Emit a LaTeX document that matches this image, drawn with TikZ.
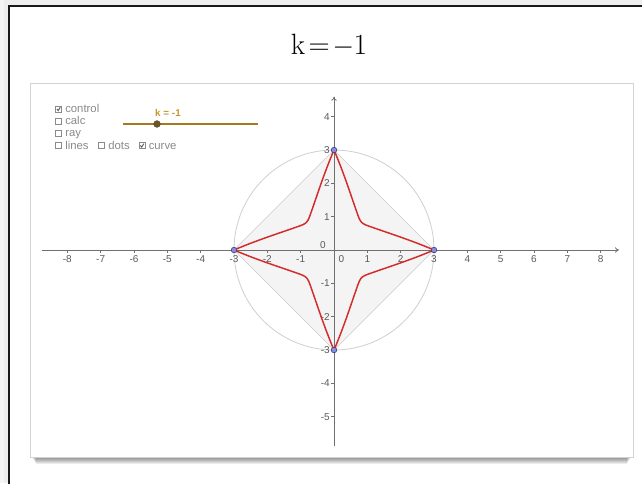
\documentclass[tikz,border=0pt]{standalone}
\usepackage{fontspec}
\newfontfamily\uifont{Liberation Sans}
\usetikzlibrary{arrows.meta}
\definecolor{axisgray}{HTML}{707070}
\definecolor{labgray}{HTML}{5A5A5A}
\definecolor{uigray}{HTML}{8A8A8A}
\definecolor{curvered}{HTML}{D42A2A}
\definecolor{sliderc}{HTML}{A8781E}
\definecolor{sliderlab}{HTML}{C8982C}
\definecolor{ptfill}{HTML}{8C8CDC}
\definecolor{ptdraw}{HTML}{3C3C78}
\tikzset{
  ticklab/.style={font=\uifont\fontsize{7.5}{8}\selectfont, text=labgray, inner sep=0pt},
  uilab/.style={font=\uifont\fontsize{8.5}{9}\selectfont, text=uigray, inner sep=0pt, anchor=base west, text height=6pt, text depth=1.5pt},
  cbox/.style={draw=uigray, line width=0.4pt, fill=white, minimum size=4.2pt, inner sep=0pt},
  ptstyle/.style={fill=ptfill, draw=ptdraw, line width=0.45pt},
  redcurve/.style={curvered, line width=1.1pt, line join=round},
  axisline/.style={axisgray, line width=0.6pt},
}
\begin{document}
\begin{tikzpicture}[x=0.75pt,y=-0.75pt]
\useasboundingbox (0,0) rectangle (642,483);
\clip (0,0) rectangle (642,483);
% page background and outer frame
\fill[gray!13] (0,0) rectangle (642,483);
\fill[gray!8] (0,0) rectangle (4,483);
\fill[white] (9,6) rectangle (660,500);
\draw[black!90, line width=1.5pt] (9,500) -- (9,6) -- (660,6);
% title
\node[font=\fontsize{22}{26}\selectfont, inner sep=0pt] (title) at (329,45) {k\kern2.6pt=\kern2.2pt$-$\kern-0.3pt1};
% panel shadow
\foreach \d in {1,...,8}
  \fill[black, opacity=0.075] (31+0.6*\d,455) rectangle (632-0.6*\d,455.5+\d);
% panel
\draw[gray!35, fill=white, line width=0.5pt] (30,83) rectangle (633,457);
% controls
\node[cbox] (cb1) at (58.5,109) {};
\node[uilab] (l1) at (65,112.5) {control};
\node[cbox] (cb2) at (58.5,121) {};
\node[uilab] (l2) at (65,124.5) {calc};
\node[cbox] (cb3) at (58.5,133) {};
\node[uilab] (l3) at (65,136.5) {ray};
\node[cbox] (cb4) at (58.5,145.5) {};
\node[uilab] (l4) at (65,149) {lines};
\node[cbox] (cb5) at (101.5,145.5) {};
\node[uilab] (l5) at (108,149) {dots};
\node[cbox] (cb6) at (142,145.5) {};
\node[uilab] (l6) at (148.5,149) {curve};
\foreach \c in {cb1,cb6}
  \draw[black!65, line width=0.7pt] ([shift={(-1.6,0)}]\c.center) -- ([shift={(-0.3,1.6)}]\c.center) -- ([shift={(1.8,-1.8)}]\c.center);
% slider
\coordinate (s1) at (123,124);
\coordinate (s2) at (258,124);
\draw[sliderc, line width=1.1pt] (s1) -- (s2);
\node[circle, fill=sliderc!70!black, draw=black!70, line width=0.4pt, minimum size=5pt, inner sep=0pt] (knob) at (157,124) {};
\node[font=\uifont\bfseries\fontsize{7.4}{8}\selectfont, text=sliderlab, inner sep=0pt] (klab) at (168,113) {k = -1};
% graph
\coordinate (O) at (334,250);
\begin{scope}[shift={(O)}, x=25pt, y=25pt]
  \fill[gray!9] (3,0) -- (0,3) -- (-3,0) -- (0,-3) -- cycle;
  \draw[gray!40, line width=0.5pt] (3,0) -- (0,3) -- (-3,0) -- (0,-3) -- cycle;
  \draw[gray!38, line width=0.6pt] (0,0) circle (3);
  % axes
  \coordinate (xa) at (-8.77,0);
  \coordinate (xb) at (8.55,0);
  \coordinate (ya) at (0,-5.88);
  \coordinate (yb) at (0,4.6);
  \draw[axisline, -{To[length=3pt,width=4pt]}] (xa) -- (xb);
  \draw[axisline, -{To[length=3pt,width=4pt]}] (ya) -- (yb);
  \foreach \x in {-8,...,-1,1,2,...,8} {
    \draw[axisline] (\x,0) -- (\x,-0.09);
    \node[ticklab] at (\x,-0.26) {\x};
  }
  \foreach \y in {-5,...,-1,1,2,...,4} {
    \draw[axisline] (0,\y) -- (-0.09,\y);
    \node[ticklab, anchor=east] at (-0.12,\y) {\y};
  }
  \node[ticklab] (zy) at (-0.33,0.15) {0};
  \node[ticklab] (zx) at (0.22,-0.26) {0};
  % red curve
  \foreach \a in {0,90,180,270}
    \draw[redcurve, rotate=\a] (3,0) .. controls (2.3,0.3) and (1.6,0.52) .. (1.15,0.68)
      .. controls (0.8,0.8) and (0.8,0.8) .. (0.68,1.15)
      .. controls (0.52,1.6) and (0.3,2.3) .. (0,3);
  % points
  \foreach \p in {(3,0),(0,3),(-3,0),(0,-3)}
    \filldraw[ptstyle] \p circle (2.1pt);
\end{scope}
\end{tikzpicture}
\end{document}
